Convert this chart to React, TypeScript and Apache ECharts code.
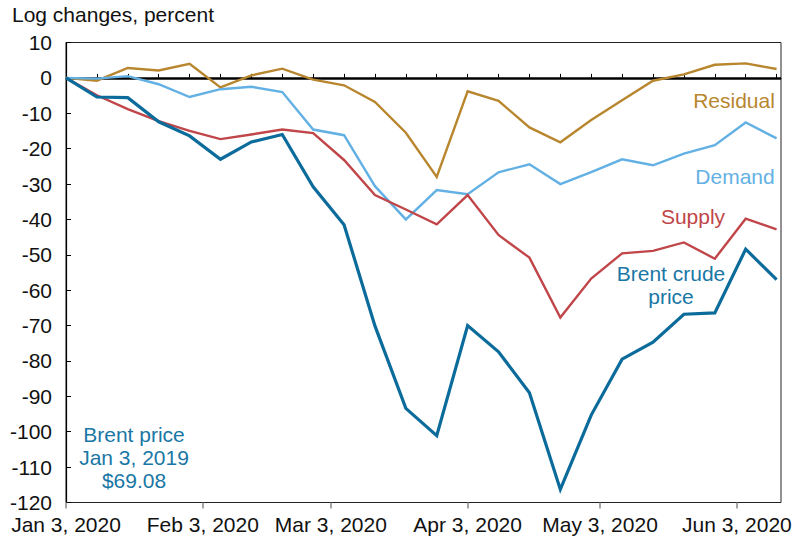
import React, { useEffect, useRef } from "react";
import * as echarts from "echarts";

// Weekly observation dates (Fridays)
const weekDates = [
  "2020-01-03", "2020-01-10", "2020-01-17", "2020-01-24", "2020-01-31",
  "2020-02-07", "2020-02-14", "2020-02-21", "2020-02-28", "2020-03-06",
  "2020-03-13", "2020-03-20", "2020-03-27", "2020-04-03", "2020-04-10",
  "2020-04-17", "2020-04-24", "2020-05-01", "2020-05-08", "2020-05-15",
  "2020-05-22", "2020-05-29", "2020-06-05", "2020-06-12",
];

const brent = [0, -5.4, -5.6, -12.4, -16.4, -23.0, -18.1, -16.0, -30.8, -41.5, -70.1, -93.4, -101.1, -70.0, -77.4, -89.0, -116.3, -95.3, -79.5, -74.7, -66.8, -66.4, -48.4, -57.0];
const supply = [0, -4.9, -8.8, -12.2, -15.0, -17.3, -16.0, -14.6, -15.6, -23.2, -33.1, -37.2, -41.4, -33.1, -44.4, -50.8, -67.7, -56.7, -49.6, -48.9, -46.5, -51.1, -39.8, -42.8];
const demand = [0, -0.2, 0.5, -1.8, -5.4, -3.2, -2.5, -4.0, -14.6, -16.2, -30.6, -40.0, -31.7, -32.9, -26.7, -24.4, -30.0, -26.6, -23.0, -24.7, -21.4, -19.0, -12.6, -17.1];
const residual = [0, -0.8, 2.8, 2.1, 4.0, -2.7, 0.7, 2.6, -0.5, -2.1, -6.8, -15.5, -28.0, -3.8, -6.5, -14.0, -18.2, -11.9, -6.3, -0.8, 1.0, 3.7, 4.1, 2.5];

const tickDates = ["2020-01-03", "2020-02-03", "2020-03-03", "2020-04-03", "2020-05-03", "2020-06-03"];
const tickLabels = ["Jan 3, 2020", "Feb 3, 2020", "Mar 3, 2020", "Apr 3, 2020", "May 3, 2020", "Jun 3, 2020"];

const axisStart = "2020-01-03";
const axisEnd = "2020-06-13";

const FONT = "Liberation Sans, Arial, sans-serif";
const FS = 21;
const C_BRENT = "#0b6b9b";
const C_BRENT_TXT = "#1a77a5";
const C_DEMAND = "#63b1e4";
const C_SUPPLY = "#c0464a";
const C_RESID = "#b8862e";

function buildDays(start: string, end: string): string[] {
  const out: string[] = [];
  const s = new Date(start + "T00:00:00Z").getTime();
  const e = new Date(end + "T00:00:00Z").getTime();
  for (let t = s; t <= e; t += 86400000) {
    out.push(new Date(t).toISOString().slice(0, 10));
  }
  return out;
}

export default function App() {
  const ref = useRef<HTMLDivElement>(null);

  useEffect(() => {
    if (!ref.current) return;
    const chart = echarts.init(ref.current, null, { renderer: "svg" });
    const days = buildDays(axisStart, axisEnd);
    const weekSet = new Set(weekDates);
    const labelMap: Record<string, string> = {};
    tickDates.forEach((d, i) => (labelMap[d] = tickLabels[i]));

    const mk = (vals: number[]) => weekDates.map((d, i) => [d, vals[i]]);
    const lineSeries = (name: string, vals: number[], color: string, width: number, extra: any = {}) => ({
      type: "line",
      name,
      data: mk(vals),
      xAxisIndex: 0,
      yAxisIndex: 0,
      symbol: "none",
      silent: true,
      lineStyle: { color, width, join: "miter" },
      itemStyle: { color },
      ...extra,
    });

    chart.setOption({
      animation: false,
      backgroundColor: "#ffffff",
      textStyle: { fontFamily: FONT },
      grid: {
        left: 66,
        right: 15,
        top: 42.5,
        bottom: 35.5,
        show: true,
        borderColor: "#222",
        borderWidth: 1,
        backgroundColor: "transparent",
      },
      xAxis: [
        {
          type: "category",
          data: days,
          boundaryGap: false,
          position: "bottom",
          axisLine: { show: true, lineStyle: { color: "#000", width: 1.2 } },
          axisTick: {
            show: true,
            inside: true,
            length: 4,
            interval: (_i: number, v: string) => weekSet.has(v),
            lineStyle: { color: "#000", width: 1 },
          },
          axisLabel: { show: false },
          splitLine: { show: false },
        },
        {
          type: "category",
          data: days,
          boundaryGap: false,
          position: "bottom",
          axisLine: { show: false },
          axisTick: {
            show: true,
            inside: false,
            length: 6,
            interval: (_i: number, v: string) => v in labelMap,
            lineStyle: { color: "#888", width: 1.5 },
          },
          axisLabel: {
            show: true,
            interval: (_i: number, v: string) => v in labelMap,
            formatter: (v: string) => labelMap[v] || "",
            margin: 11,
            fontFamily: FONT,
            fontSize: FS,
            color: "#111",
          },
          splitLine: { show: false },
        },
      ],
      yAxis: {
        type: "value",
        min: -120,
        max: 10,
        interval: 10,
        axisLine: { show: true, lineStyle: { color: "#000", width: 1.2 } },
        axisTick: { show: true, inside: true, length: 5, lineStyle: { color: "#000" } },
        axisLabel: { fontFamily: FONT, fontSize: FS, color: "#111", margin: 14, lineHeight: 20 },
        splitLine: { show: false },
      },
      series: [
        lineSeries("Residual", residual, C_RESID, 2.4, {
          markLine: {
            silent: true,
            symbol: "none",
            label: { show: false },
            lineStyle: { color: "#000", width: 2.5, type: "solid" },
            data: [{ yAxis: 0 }],
            z: 1,
          },
        }),
        lineSeries("Demand", demand, C_DEMAND, 2.4),
        lineSeries("Supply", supply, C_SUPPLY, 2.4),
        lineSeries("Brent crude price", brent, C_BRENT, 3.2),
      ],
      graphic: [
        {
          type: "text",
          left: 12,
          top: 4,
          style: { text: "Log changes, percent", fontFamily: FONT, fontSize: FS, fill: "#111" },
        },
        {
          type: "text",
          x: 734,
          y: 100,
          style: { text: "Residual", fontFamily: FONT, fontSize: FS, fill: C_RESID, align: "center", verticalAlign: "middle" },
        },
        {
          type: "text",
          x: 735,
          y: 176,
          style: { text: "Demand", fontFamily: FONT, fontSize: FS, fill: C_DEMAND, align: "center", verticalAlign: "middle" },
        },
        {
          type: "text",
          x: 693,
          y: 216,
          style: { text: "Supply", fontFamily: FONT, fontSize: FS, fill: C_SUPPLY, align: "center", verticalAlign: "middle" },
        },
        {
          type: "text",
          x: 671,
          y: 285,
          style: {
            text: "Brent crude\nprice",
            fontFamily: FONT,
            fontSize: FS,
            lineHeight: 23,
            fill: C_BRENT_TXT,
            align: "center",
            verticalAlign: "middle",
          },
        },
        {
          type: "text",
          x: 134,
          y: 457,
          style: {
            text: "Brent price\nJan 3, 2019\n$69.08",
            fontFamily: FONT,
            fontSize: FS,
            lineHeight: 23,
            fill: C_BRENT_TXT,
            align: "center",
            verticalAlign: "middle",
          },
        },
      ],
    });

    return () => chart.dispose();
  }, []);

  return (
    <div
      ref={ref}
      style={{ position: "fixed", left: 0, top: 0, width: 796, height: 538, background: "#fff" }}
    />
  );
}
